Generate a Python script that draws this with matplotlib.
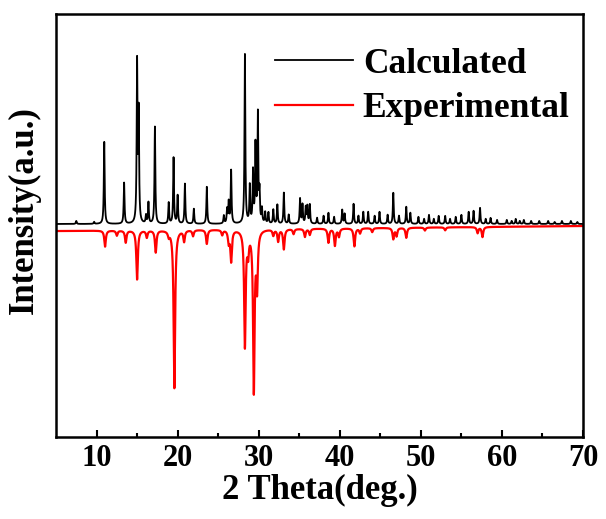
import numpy as np
import matplotlib
matplotlib.use("Agg")
import matplotlib.pyplot as plt

# ---- data (2theta in deg, intensity in arbitrary units) ----
calc_pos = [7.5, 9.7, 10.95, 13.4, 15.0, 15.2, 16.1, 16.4, 17.2, 18.9, 19.5, 20.0, 20.9,
            22.0, 23.6, 25.7, 26.1, 26.3, 26.6, 28.3, 28.9, 29.3, 29.6, 29.9, 30.1, 30.4,
            30.8, 31.2, 31.8, 32.3, 33.1, 33.7, 35.1, 35.4, 35.8, 36.0, 36.3, 37.2, 38.0,
            38.6, 39.3, 40.3, 40.6, 41.7, 42.3, 42.9, 43.5, 44.3, 44.9, 45.9, 46.6, 47.3,
            48.2, 48.7, 49.7, 50.4, 51.0, 51.6, 52.2, 53.0, 53.6, 54.3, 55.0, 55.9, 56.5,
            57.3, 58.0, 58.6, 59.4, 60.6, 61.2, 61.7, 62.2, 62.7, 63.6, 64.6, 65.7, 66.5,
            67.4, 68.5, 69.3]
calc_int = [3, 2, 82, 41, 159, 108, 8, 21, 97, 21, 66, 28, 40,
            15, 37, 8, 14, 21, 53, 169, 37, 51, 77, 108, 29, 14,
            11, 11, 14, 19, 31, 9, 25, 19, 16, 17, 19, 6, 8,
            11, 7, 14, 10, 20, 8, 12, 12, 8, 12, 9, 31, 8,
            17, 11, 7, 5, 9, 5, 8, 8, 5, 7, 9, 12, 13,
            16, 5, 6, 4, 4, 3, 5, 3, 4, 3, 3, 3, 2,
            3, 3, 2]

exp_pos = [11.05, 12.5, 13.6, 15.0, 16.2, 17.3, 18.9, 19.6, 20.8, 21.9, 23.6, 25.5,
           26.3, 26.6, 28.3, 28.7, 29.4, 29.8, 31.8, 32.4, 33.1, 34.3, 35.7, 36.3,
           38.6, 39.4, 39.9, 41.8, 42.5, 44.0, 46.6, 47.0, 48.2, 50.5, 53.0, 57.0, 57.6]
exp_int = [16, 5, 12, 49, 7, 22, 5, 158, 11, 6, 14, 5,
           12, 31, 116, 20, 160, 55, 6, 12, 20, 5, 8, 6,
           14, 17, 8, 18, 5, 4, 11, 8, 10, 3, 3, 6, 10]

calc_offset = 213          # baseline of calculated pattern
exp_offset_start = 206     # baseline of experimental pattern at 5 deg
exp_offset_end = 211       # baseline of experimental pattern at 70 deg

x_ticks = [10, 20, 30, 40, 50, 60, 70]

# ---- build profiles from the peak tables ----
x = np.arange(5, 70.0001, 0.005)

def profile(pos, inten, hw):
    y = np.zeros_like(x)
    for p, h in zip(pos, inten):
        y += h * hw**2 / ((x - p)**2 + hw**2)
    return y

calc = calc_offset + profile(calc_pos, calc_int, 0.06)
exp_base = np.interp(x, [5, 70], [exp_offset_start, exp_offset_end])
exp = exp_base - profile(exp_pos, exp_int, 0.11)

# ---- figure ----
plt.rcParams['font.family'] = ['Liberation Serif', 'DejaVu Serif']
plt.rcParams['font.weight'] = 'bold'

fig = plt.figure(figsize=(6.06, 5.19), dpi=100)
ax = fig.add_axes([56/606, 1-437/519, (583-56)/606, (437-14)/519])

ax.plot(x, calc, color='black', lw=1.3, label='Calculated')
ax.plot(x, exp, color='red', lw=1.6, label='Experimental')

ax.set_xlim(5, 70)
ax.set_ylim(0, 423)
ax.set_xticks(x_ticks)
ax.set_xticks([15, 25, 35, 45, 55, 65], minor=True)
ax.set_yticks([])
ax.tick_params(axis='x', which='major', direction='in', length=5, width=1.5,
               labelsize=22, pad=5)
ax.tick_params(axis='x', which='minor', direction='in', length=3, width=1.5)
for lab in ax.get_xticklabels():
    lab.set_fontweight('bold')
for s in ax.spines.values():
    s.set_linewidth(1.8)

ax.set_xlabel('2 Theta(deg.)', fontsize=25, fontweight='bold', labelpad=1)
ax.set_ylabel('Intensity(a.u.)', fontsize=25, fontweight='bold')
ax.yaxis.set_label_coords(-0.029, (437-210)/423)

fig.legend(loc='center left', bbox_to_anchor=(275/606, 1-86.5/519),
           frameon=False, handlelength=2.45 * 23/25.5, handletextpad=0.3 * 23/25.5,
           labelspacing=0.32, borderpad=0, borderaxespad=0,
           prop={'weight': 'bold', 'size': 25.5})

fig.savefig('out.png', dpi=100)
